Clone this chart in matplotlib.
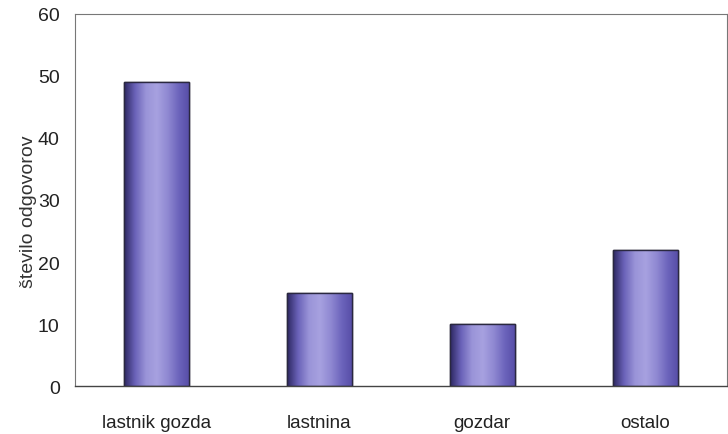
import numpy as np
import matplotlib.pyplot as plt
from matplotlib.colors import LinearSegmentedColormap

plt.rcParams["font.family"] = ["Liberation Sans", "DejaVu Sans"]

categories = ["lastnik gozda", "lastnina", "gozdar", "ostalo"]
responses = [49, 15, 10, 22]
y_ticks = [0, 10, 20, 30, 40, 50, 60]

# horizontal shading across each bar, like a lit cylinder
bar_cmap = LinearSegmentedColormap.from_list(
    "cyl", ["#2c2760", "#6a62b8", "#9a94d8", "#a7a1e0", "#8f88d2", "#6c64bc", "#564ca6"]
)

fig = plt.figure(figsize=(7.28, 4.35), dpi=100)
ax = fig.add_axes([0.103, 0.110, 0.895, 0.856])

x = np.arange(len(categories))
bars = ax.bar(x, responses, width=0.4, color="#7d75c6", edgecolor="#1a1a2a",
              linewidth=1.0, zorder=2)

grad = np.linspace(0, 1, 256).reshape(1, -1)
for b in bars:
    x0, y0 = b.get_x(), b.get_y()
    w, h = b.get_width(), b.get_height()
    im = ax.imshow(grad, cmap=bar_cmap, aspect="auto",
                   extent=[x0, x0 + w, y0, y0 + h], zorder=2.5)
    im.set_clip_path(b)
    # outline on top of the shading
    ax.bar(x0 + w / 2, h, width=w, fill=False, edgecolor="#2a2840",
           linewidth=1.0, zorder=3)

ax.set_xlim(-0.5, 3.5)
ax.set_ylim(0, 60)
ax.set_yticks(y_ticks)
ax.set_xticks(x)
ax.set_xticklabels(categories, fontsize=13.5, color="#222222")
ax.tick_params(axis="y", length=0, pad=11, labelsize=14, labelcolor="#222222")
ax.tick_params(axis="x", length=0, pad=20)
ax.set_ylabel("število odgovorov", fontsize=14, color="#333333")
ax.yaxis.set_label_coords(-0.058, 0.47)

for side in ["left", "top", "right"]:
    ax.spines[side].set_color("#777777")
    ax.spines[side].set_linewidth(0.8)
ax.spines["bottom"].set_color("#444444")
ax.spines["bottom"].set_linewidth(1.0)

fig.savefig("out.png", dpi=100, facecolor="white")
